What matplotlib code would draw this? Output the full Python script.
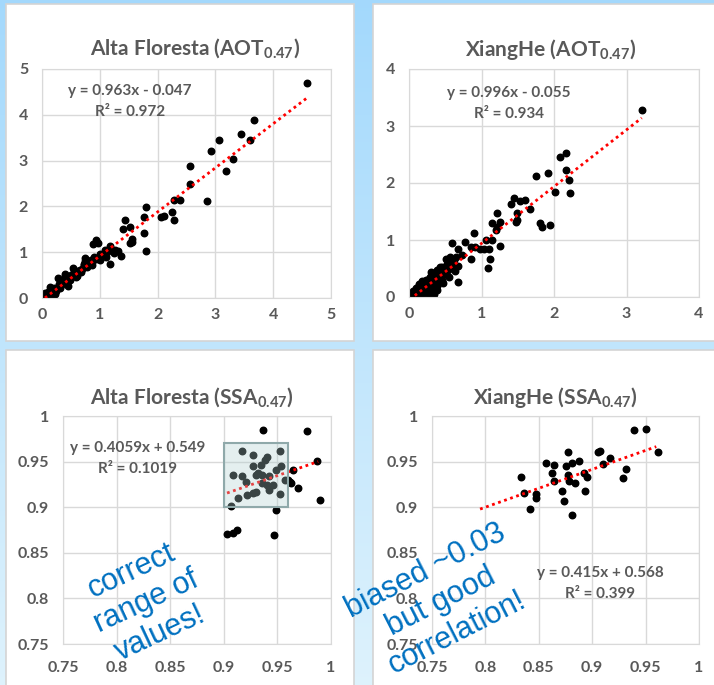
import numpy as np
import matplotlib
matplotlib.use("Agg")
import matplotlib.pyplot as plt
from matplotlib.patches import Rectangle

# Alta Floresta AOT 0.47
af_aot_x = [4.58, 3.67, 3.45, 3.59, 3.06, 2.92, 3.31, 3.19, 2.56, 2.56, 2.85, 2.28, 2.38, 2.25, 2.28,
            2.06, 2.11, 1.80, 1.76, 1.77, 1.80, 1.44, 1.53, 1.41, 1.55, 1.52, 1.56, 0.94, 0.97, 0.89,
            1.00, 1.09, 1.17, 1.14, 1.26, 1.32, 1.36, 1.18, 1.00, 1.10, 0.74, 0.73, 0.87, 0.88, 0.53,
            0.58, 0.45, 0.39, 0.28, 0.45, 0.33, 0.22, 0.13, 0.08, 0.05, 0.19, 0.68, 0.77, 0.65,
            0.03, 0.05, 0.07, 0.10, 0.12, 0.15, 0.17, 0.20, 0.22, 0.25, 0.28, 0.30, 0.32, 0.35, 0.38,
            0.40, 0.42, 0.48, 0.50, 0.55, 0.55, 0.60, 0.62, 0.70, 0.72, 0.75, 0.80, 0.85, 0.90, 0.93,
            1.05, 1.12, 1.20, 1.25]
af_aot_y = [4.69, 3.88, 3.58, 3.45, 3.45, 3.20, 3.04, 2.78, 2.89, 2.50, 2.12, 2.14, 2.14, 1.87, 1.70,
            1.76, 1.79, 1.99, 1.76, 1.41, 1.02, 1.70, 1.55, 1.50, 1.28, 1.19, 1.23, 1.26, 1.21, 1.17,
            0.97, 1.04, 1.14, 1.04, 1.04, 1.03, 0.92, 0.74, 0.84, 0.90, 0.88, 0.75, 0.73, 0.82, 0.66,
            0.46, 0.45, 0.53, 0.44, 0.26, 0.28, 0.17, 0.24, 0.09, 0.02, 0.06, 0.57, 0.68, 0.61,
            0.05, 0.10, 0.03, 0.13, 0.05, 0.18, 0.10, 0.22, 0.08, 0.15, 0.25, 0.30, 0.22, 0.38, 0.32,
            0.47, 0.36, 0.40, 0.50, 0.55, 0.62, 0.48, 0.58, 0.63, 0.72, 0.80, 0.75, 0.83, 0.90, 0.85,
            0.95, 1.00, 1.08, 0.98]

# XiangHe AOT 0.47
xh_aot_x = [3.21, 2.17, 2.08, 2.17, 2.20, 2.22, 2.02, 1.92, 1.75, 1.94, 1.83, 1.80, 1.67, 1.60, 1.53,
            1.45, 1.40, 1.49, 1.49, 1.48, 1.22, 1.26, 1.14, 1.21, 1.20, 1.25, 1.14, 1.06, 1.11, 1.12,
            1.09, 1.03, 0.98, 0.90, 0.91, 0.86, 0.85, 0.77, 0.68, 0.73, 0.59, 0.67, 0.67, 0.57, 0.51,
            0.46, 0.38, 0.43, 0.31, 0.27, 0.20, 0.13, 0.08, 0.15, 0.04, 0.34,
            0.05, 0.08, 0.10, 0.12, 0.14, 0.16, 0.18, 0.20, 0.22, 0.24, 0.25, 0.27, 0.29, 0.30, 0.32,
            0.33, 0.35, 0.36, 0.38, 0.40, 0.41, 0.43, 0.44, 0.46, 0.48, 0.50, 0.52, 0.54, 0.56, 0.58,
            0.60, 0.62, 0.63, 0.65, 0.55, 0.47, 0.39, 0.26, 0.18, 0.33]
xh_aot_y = [3.28, 2.52, 2.46, 2.22, 2.05, 1.82, 1.84, 2.17, 2.13, 1.26, 1.23, 1.30, 1.54, 1.71, 1.69,
            1.73, 1.64, 1.47, 1.35, 1.32, 1.48, 1.32, 1.30, 1.23, 1.17, 0.90, 1.00, 1.00, 0.85, 0.66,
            0.51, 0.85, 0.85, 1.13, 0.88, 0.88, 0.66, 0.97, 0.85, 0.73, 0.94, 0.55, 0.26, 0.70, 0.66,
            0.29, 0.47, 0.53, 0.44, 0.32, 0.23, 0.18, 0.09, 0.06, 0.05, 0.06,
            0.10, 0.03, 0.15, 0.07, 0.22, 0.12, 0.28, 0.08, 0.18, 0.30, 0.12, 0.22, 0.35, 0.18, 0.28,
            0.42, 0.25, 0.33, 0.20, 0.38, 0.28, 0.45, 0.35, 0.52, 0.40, 0.46, 0.58, 0.48, 0.62, 0.52,
            0.55, 0.65, 0.45, 0.70, 0.35, 0.25, 0.12, 0.05, 0.05, 0.10]

# Alta Floresta SSA 0.47
af_ssa_x = [0.937, 0.978, 0.917, 0.952, 0.927, 0.940, 0.938, 0.987, 0.953, 0.927, 0.935, 0.965, 0.949,
            0.932, 0.936, 0.930, 0.909, 0.917, 0.942, 0.921, 0.957, 0.962, 0.963, 0.936, 0.940, 0.946,
            0.969, 0.942, 0.930, 0.927, 0.922, 0.952, 0.913, 0.990, 0.907, 0.949, 0.912, 0.909, 0.903,
            0.947, 0.960]
af_ssa_y = [0.985, 0.984, 0.962, 0.962, 0.957, 0.955, 0.952, 0.951, 0.945, 0.945, 0.946, 0.941, 0.941,
            0.938, 0.935, 0.935, 0.935, 0.934, 0.934, 0.928, 0.930, 0.928, 0.926, 0.927, 0.924, 0.924,
            0.921, 0.919, 0.917, 0.916, 0.913, 0.915, 0.910, 0.908, 0.901, 0.897, 0.875, 0.872, 0.871,
            0.869, 0.930]

# XiangHe SSA 0.47
xh_ssa_x = [0.939, 0.950, 0.962, 0.905, 0.907, 0.877, 0.917, 0.910, 0.932, 0.929, 0.857, 0.864, 0.875,
            0.881, 0.888, 0.862, 0.877, 0.892, 0.895, 0.864, 0.878, 0.884, 0.833, 0.836, 0.847, 0.847,
            0.842, 0.872, 0.893, 0.874, 0.881]
xh_ssa_y = [0.985, 0.986, 0.961, 0.961, 0.962, 0.961, 0.954, 0.947, 0.942, 0.932, 0.949, 0.946, 0.945,
            0.949, 0.951, 0.937, 0.935, 0.937, 0.933, 0.929, 0.929, 0.926, 0.933, 0.916, 0.915, 0.910,
            0.898, 0.918, 0.918, 0.907, 0.891]

# fitted trend lines: slope, intercept, x range
af_aot_fit = (0.963, -0.047, 0.05, 4.58)
xh_aot_fit = (0.996, -0.055, 0.08, 3.21)
af_ssa_fit = (0.4059, 0.549, 0.903, 0.988)
xh_ssa_fit = (0.415, 0.568, 0.795, 0.960)

W, H = 714, 685
GREY = "#595959"
BLUE = "#0070c0"
LABEL_FONT = "Lato"

plt.rcParams["mathtext.fontset"] = "custom"
plt.rcParams["mathtext.rm"] = "Lato:bold"
plt.rcParams["mathtext.it"] = "Lato:bold"
plt.rcParams["mathtext.bf"] = "Lato:bold"


def fx(px):
    return px / W


def fy(py):
    return 1 - py / H


fig = plt.figure(figsize=(W / 100, H / 100), dpi=100)

# light blue slide background
bg = fig.add_axes([0, 0, 1, 1], zorder=-10)
grad = np.linspace(0, 1, 256).reshape(-1, 1)
top = np.array([0.64, 0.85, 0.99])
bottom = np.array([0.87, 0.95, 0.99])
img = top + grad[..., None] * (bottom - top)
bg.imshow(img, aspect="auto", extent=[0, 1, 0, 1])
bg.set_axis_off()

# white chart areas
for l, t, r, b in [(6, 4, 354, 341), (373, 4, 716, 341), (6, 350, 354, 690), (373, 350, 716, 690)]:
    bg.add_patch(Rectangle((fx(l), fy(b)), fx(r - l), (b - t) / H, facecolor="white",
                           edgecolor="#d4d4d4", lw=1.2, transform=bg.transAxes))


def make_panel(box, lim, ticks, ticklabels, xpad):
    l, t, r, b = box
    ax = fig.add_axes([fx(l), fy(b), fx(r - l), (b - t) / H])
    ax.set_xlim(lim)
    ax.set_ylim(lim)
    ax.set_xticks(ticks)
    ax.set_yticks(ticks)
    ax.set_xticklabels(ticklabels)
    ax.set_yticklabels(ticklabels)
    ax.grid(True, color="#d9d9d9", lw=1)
    ax.set_axisbelow(True)
    for s in ax.spines.values():
        s.set_color("#d9d9d9")
    ax.tick_params(length=0, labelcolor=GREY, labelsize=11.5)
    ax.tick_params(axis="y", pad=10)
    ax.tick_params(axis="x", pad=xpad)
    for lab in ax.get_xticklabels() + ax.get_yticklabels():
        lab.set_fontfamily(LABEL_FONT)
        lab.set_fontweight("bold")
    return ax


def trend(ax, fit):
    a, c, x0, x1 = fit
    xs = np.array([x0, x1])
    ax.plot(xs, a * xs + c, color="red", lw=2, linestyle=(0, (1, 1.3)), zorder=3)


def fit_text(ax, pos, eq, r2):
    x, y = pos
    ax.text(fx(x), fy(y), eq, transform=fig.transFigure, ha="center", va="center",
            fontsize=11, color=GREY, fontfamily=LABEL_FONT, fontweight="bold")
    ax.text(fx(x), fy(y + 21), r2, transform=fig.transFigure, ha="center", va="center",
            fontsize=11, color=GREY, fontfamily=LABEL_FONT, fontweight="bold")


def title(x, y, s):
    fig.text(fx(x), fy(y), s, ha="center", va="center", fontsize=15, color=GREY,
             fontfamily=LABEL_FONT, fontweight="bold")


aot5 = [0, 1, 2, 3, 4, 5]
aot4 = [0, 1, 2, 3, 4]
ssa = [0.75, 0.8, 0.85, 0.9, 0.95, 1.0]
ssa_lab = ["0.75", "0.8", "0.85", "0.9", "0.95", "1"]

ax1 = make_panel((42, 69, 331, 298), (0, 5), aot5, [str(v) for v in aot5], 7)
ax1.scatter(af_aot_x, af_aot_y, s=22, color="black", zorder=2)
trend(ax1, af_aot_fit)
fit_text(ax1, (130, 91), "y = 0.963x - 0.047", "R² = 0.972")
title(195, 48, r"Alta Floresta (AOT$_{\mathrm{0.47}}$)")

ax2 = make_panel((409, 69, 699, 297), (0, 4), aot4, [str(v) for v in aot4], 7)
ax2.scatter(xh_aot_x, xh_aot_y, s=22, color="black", zorder=2)
trend(ax2, xh_aot_fit)
fit_text(ax2, (509, 93), "y = 0.996x - 0.055", "R² = 0.934")
title(551, 50, r"XiangHe (AOT$_{\mathrm{0.47}}$)")

ax3 = make_panel((63, 416, 331, 644), (0.75, 1.0), ssa, ssa_lab, 12)
ax3.scatter(af_ssa_x, af_ssa_y, s=22, color="black", zorder=2)
trend(ax3, af_ssa_fit)
ax3.add_patch(Rectangle((0.90, 0.90), 0.06, 0.07, facecolor="#aecfcf", alpha=0.33,
                        edgecolor="none", zorder=4))
ax3.add_patch(Rectangle((0.90, 0.90), 0.06, 0.07, facecolor="none", edgecolor="#8fa9aa",
                        lw=1.5, zorder=5))
fit_text(ax3, (138, 448), "y = 0.4059x + 0.549", "R² = 0.1019")
title(192, 397, r"Alta Floresta (SSA$_{\mathrm{0.47}}$)")

ax4 = make_panel((432, 416, 699, 644), (0.75, 1.0), ssa, ssa_lab, 12)
ax4.scatter(xh_ssa_x, xh_ssa_y, s=22, color="black", zorder=2)
trend(ax4, xh_ssa_fit)
fit_text(ax4, (600, 573), "y = 0.415x + 0.568", "R² = 0.399")
title(555, 397, r"XiangHe (SSA$_{\mathrm{0.47}}$)")

# hand-written style notes
fig.text(fx(146), fy(602), "correct\nrange of\nvalues!", ha="center", va="center",
         multialignment="center", rotation=25, fontsize=22, color=BLUE,
         fontfamily="Liberation Sans", linespacing=1.2, zorder=20)
fig.text(fx(441), fy(602), "biased ~0.03\nbut good\ncorrelation!", ha="center", va="center",
         multialignment="center", rotation=27, fontsize=22, color=BLUE,
         fontfamily="Liberation Sans", linespacing=1.2, zorder=20)

fig.savefig("out.png", dpi=100)
